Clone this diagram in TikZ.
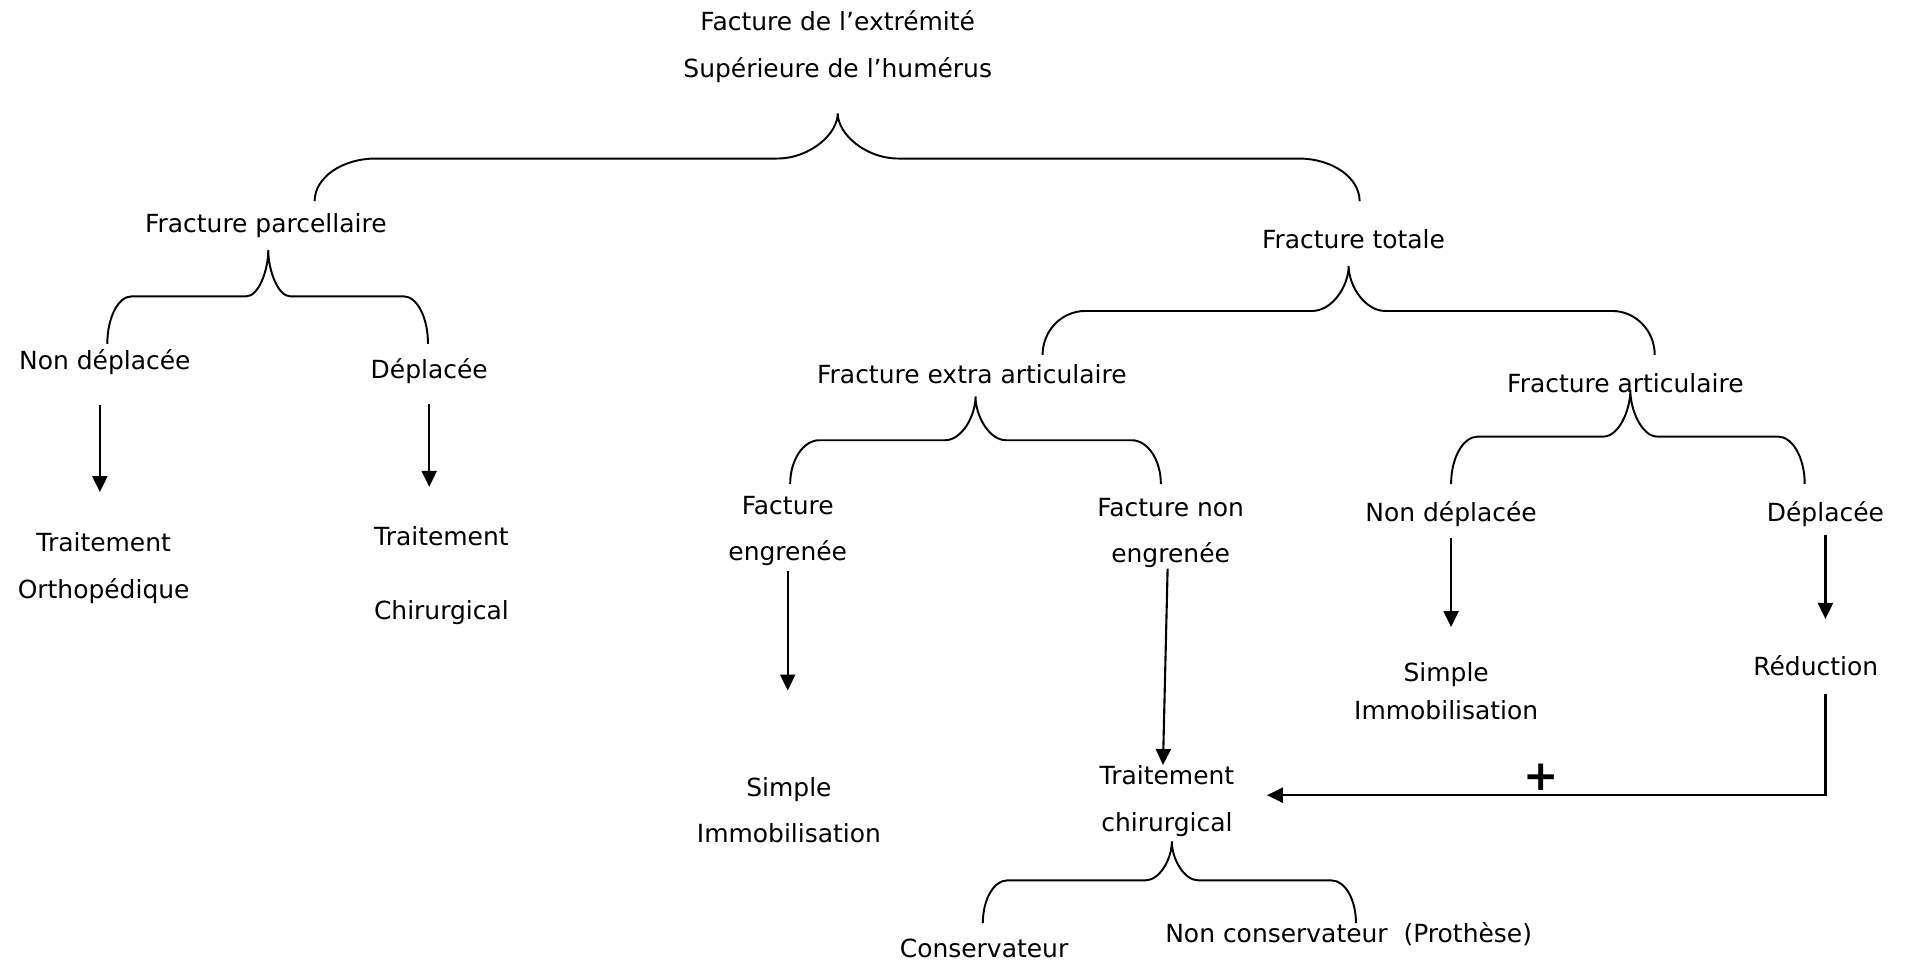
\documentclass[tikz,border=0pt]{standalone}
\usepackage{fontspec}
\setmainfont{DejaVu Sans}
\usepackage{tikz}
\usetikzlibrary{positioning,arrows.meta,calc}

% curly fork: tip x, tip y, bar y, left x, right x, foot y, corner w, inner w
\newcommand{\fourche}[8]{%
  \draw[brc] (#4,#6) .. controls (#4,{#6-0.552*(#6-#3)}) and ({#4+0.448*#7},#3) .. ({#4+#7},#3)
    -- ({#1-#8},#3) .. controls ({#1-0.448*#8},#3) and (#1,{#3-0.552*(#3-#2)}) .. (#1,#2)
    .. controls (#1,{#3-0.552*(#3-#2)}) and ({#1+0.448*#8},#3) .. ({#1+#8},#3)
    -- ({#5-#7},#3) .. controls ({#5-0.448*#7},#3) and (#5,{#6-0.552*(#6-#3)}) .. (#5,#6);}

\begin{document}
\begin{tikzpicture}[x=0.012194cm, y=-0.012194cm,
  lbl/.style={font=\fontsize{7.1}{13.3}\selectfont, align=center, inner sep=0pt},
  arr/.style={-{Triangle[length=1.6mm,width=1.5mm]}, line width=0.6pt},
  brc/.style={line width=0.55pt}]
\useasboundingbox (0,0) rectangle (1568,791);
\node[lbl] (titre) at (687,38) {Facture de l’extrémité\\Supérieure de l’humérus};
\node[lbl] (parc) at (218,185) {Fracture parcellaire};
\node[lbl] (totale) at (1110,196) {Fracture totale};
\node[lbl] (nd1) at (86,297) {Non déplacée};
\node[lbl] (dep1) at (352,304) {Déplacée};
\node[lbl] (ortho) at (85,466) {Traitement\\Orthopédique};
\node[lbl] (chir1) at (362,472) {Traitement\\[7.7pt]Chirurgical};
\node[lbl] (extra) at (797,307) {Fracture extra articulaire};
\node[lbl] (artic) at (1333,314) {Fracture articulaire};
\node[lbl] (eng) at (646,435.5) {Facture\\engrenée};
\node[lbl] (noneng) at (960,437) {Facture non\\engrenée};
\node[lbl] (nd2) at (1190,422) {Non déplacée};
\node[lbl] (dep2) at (1497,422) {Déplacée};
\node[lbl] (simp1) at (1186,567) {Simple\\[-2.5pt]Immobilisation};
\node[lbl] (red) at (1489,546) {Réduction};
\node[lbl] (simp2) at (647,664.5) {Simple\\Immobilisation};
\node[lbl] (chir) at (957,657) {Traitement\\chirurgical};
\node[lbl] (cons) at (807,778) {Conservateur};
\node[lbl] (noncons) at (1106,766) {Non conservateur\ \ (Prothèse)};
\node[font=\fontsize{12}{12}\selectfont\bfseries, inner sep=0pt] (plus) at (1264,637) {+};
% forks
\fourche{687}{93}{130}{258}{1115}{165}{50}{50}
\fourche{220}{205}{243}{88}{351}{282}{20}{18}
\fourche{1106}{218}{255}{855}{1357}{291}{35}{30}
\fourche{800}{325}{361}{648}{952}{397}{24}{25}
\fourche{1337}{320}{358}{1190}{1480}{397}{22}{22}
\fourche{961}{690}{722}{806}{1112}{757}{20}{22}
% arrows
\draw[arr, shorten <=3mm, shorten >=4mm] ([xshift=-0.5mm]nd1.south) -- ([xshift=-0.5mm]nd1.south |- ortho.north);
\draw[arr, shorten <=2mm, shorten >=3.9mm] (dep1.south) -- (dep1.south |- chir1.north);
\draw[arr, shorten <=0.4mm, shorten >=8.6mm] (eng.south) -- (eng.south |- simp2.north);
\draw[arr] ([xshift=-0.3mm]noneng.south) -- ([xshift=-0.4mm]chir.north);
\draw[arr, shorten <=1mm, shorten >=3.5mm] (nd2.south) -- (nd2.south |- simp1.north);
\draw[arr, shorten <=0.7mm, shorten >=3.6mm] (dep2.south) -- (dep2.south |- red.north);
\draw[arr, shorten <=1.7mm, shorten >=3.2mm] (dep2.south |- red.south) |- ([yshift=1.7pt]chir.east);
\end{tikzpicture}
\end{document}
